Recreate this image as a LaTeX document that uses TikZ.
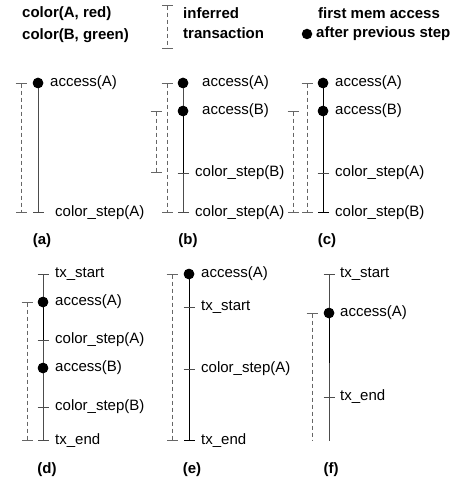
\documentclass[tikz,border=0pt]{standalone}
\usepackage{fontspec}
\setmainfont{Liberation Sans}
\usetikzlibrary{arrows.meta}

\newcommand{\steptick}[1]{\draw[txline] ([xshift=-5.5pt]#1) -- ([xshift=5.5pt]#1);}

\begin{document}
\begin{tikzpicture}[x=1pt,y=-1pt,font=\fontsize{15}{18}\selectfont]
    \tikzstyle{event}=[anchor=west,inner sep=0pt]
    \tikzstyle{legend}=[event,font=\fontsize{15}{18}\selectfont\bfseries]
    \tikzstyle{panel}=[inner sep=0pt,font=\fontsize{15}{18}\selectfont\bfseries]
    \tikzstyle{memdot}=[circle,fill=black,inner sep=0pt,minimum size=10.5pt]
    \tikzstyle{txline}=[draw=black!70,line width=0.8pt]
    \tikzstyle{hot}=[draw=black,line width=1pt]
    \tikzstyle{inferred}=[draw=black!60,line width=0.8pt,dash pattern=on 4pt off 3pt]
    \tikzstyle{ends}=[{Bar[width=11pt]}-{Bar[width=11pt]}]
    \useasboundingbox (0,0) rectangle (455,481);

    % Legend
    \node[legend] (lg-a) at (22,14) {color(A, red)};
    \node[legend] (lg-b) at (22,36) {color(B, green)};
    \coordinate (lg-t0) at (167.5,5);
    \coordinate (lg-t1) at (167.5,49);
    \draw[inferred,ends] (lg-t0) -- (lg-t1);
    \node[legend] (lg-inf) at (183,13) {inferred};
    \node[legend] (lg-tx) at (183,33) {transaction};
    \node[memdot] (lg-dot) at (307,34) {};
    \node[legend] (lg-first) at (318,13) {first mem access};
    \node[legend] (lg-after) at (316,34) {after previous step};

    % (a)
    \node[memdot] (a-1) at (38,83) {};
    \coordinate (a-2) at (38,213);
    \node[event] (a-l1) at (50,83) {access(A)};
    \node[event] (a-l2) at (55,213) {color\_step(A)};
    \coordinate (a-t0) at (21,83);
    \coordinate (a-t1) at (21,213);
    \draw[inferred,ends] (a-t0) -- (a-t1);
    \draw[txline,-{Bar[width=11pt]}] (a-1.center) -- (a-2);
    \node[memdot] at (a-1) {};
    \node[panel] (a-cap) at (42,241) {(a)};

    % (b)
    \node[memdot] (b-1) at (183,83) {};
    \node[memdot] (b-2) at (183,111) {};
    \coordinate (b-3) at (183,173);
    \coordinate (b-4) at (183,213);
    \node[event] (b-l1) at (202,83) {access(A)};
    \node[event] (b-l2) at (202,111) {access(B)};
    \node[event] (b-l3) at (195,173) {color\_step(B)};
    \node[event] (b-l4) at (195,213) {color\_step(A)};
    \coordinate (b-t0) at (167,83);
    \coordinate (b-t1) at (167,213);
    \coordinate (b-u0) at (156,111);
    \coordinate (b-u1) at (156,173);
    \draw[inferred,ends] (b-t0) -- (b-t1);
    \draw[inferred,ends] (b-u0) -- (b-u1);
    \draw[txline,-{Bar[width=11pt]}] (b-1.center) -- (b-4);
    \draw[hot] (b-2.center) -- (b-3);
    \steptick{b-3}
    \node[memdot] at (b-1) {};
    \node[memdot] at (b-2) {};
    \node[panel] (b-cap) at (188,241) {(b)};

    % (c)
    \node[memdot] (c-1) at (323,83) {};
    \node[memdot] (c-2) at (323,111) {};
    \coordinate (c-3) at (323,173);
    \coordinate (c-4) at (323,213);
    \foreach \y/\txt [count=\i] in {83/access(A), 111/access(B), 173/color\_step(A), 213/color\_step(B)}
        \node[event] (c-l\i) at (335,\y) {\txt};
    \coordinate (c-t0) at (307,83);
    \coordinate (c-t1) at (307,213);
    \coordinate (c-u0) at (293,111);
    \coordinate (c-u1) at (293,213);
    \draw[inferred,ends] (c-t0) -- (c-t1);
    \draw[inferred,ends] (c-u0) -- (c-u1);
    \draw[hot,-{Bar[width=11pt]}] (c-1.center) -- (c-4);
    \steptick{c-3}
    \node[memdot] at (c-1) {};
    \node[memdot] at (c-2) {};
    \node[panel] (c-cap) at (327,241) {(c)};

    % (d)
    \coordinate (d-1) at (43,274);
    \node[memdot] (d-2) at (43,302) {};
    \coordinate (d-3) at (43,340);
    \node[memdot] (d-4) at (43,368) {};
    \coordinate (d-5) at (43,407);
    \coordinate (d-6) at (43,441);
    \foreach \y/\txt [count=\i] in {274/tx\_start, 302/access(A), 340/color\_step(A), 368/access(B), 407/color\_step(B), 441/tx\_end}
        \node[event] (d-l\i) at (55,\y) {\txt};
    \coordinate (d-t0) at (27,302);
    \coordinate (d-t1) at (27,441);
    \draw[inferred,ends] (d-t0) -- (d-t1);
    \draw[txline,ends] (d-1) -- (d-6);
    \draw[hot] (d-2.center) -- (d-3);
    \steptick{d-3}
    \steptick{d-5}
    \node[memdot] at (d-2) {};
    \node[memdot] at (d-4) {};
    \node[panel] (d-cap) at (47,470) {(d)};

    % (e)
    \node[memdot] (e-1) at (189,274) {};
    \coordinate (e-2) at (189,307);
    \coordinate (e-3) at (189,369);
    \coordinate (e-4) at (189,441);
    \foreach \y/\txt [count=\i] in {274/access(A), 307/tx\_start, 369/color\_step(A), 441/tx\_end}
        \node[event] (e-l\i) at (201,\y) {\txt};
    \coordinate (e-t0) at (172,274);
    \coordinate (e-t1) at (172,441);
    \draw[inferred,ends] (e-t0) -- (e-t1);
    \draw[hot,-{Bar[width=11pt]}] (e-1.center) -- (e-4);
    \steptick{e-2}
    \steptick{e-3}
    \node[memdot] at (e-1) {};
    \node[panel] (e-cap) at (192,470) {(e)};

    % (f)
    \coordinate (f-1) at (329,274);
    \node[memdot] (f-2) at (329,313) {};
    \coordinate (f-3) at (329,363);
    \coordinate (f-4) at (329,397);
    \coordinate (f-5) at (329,441);
    \foreach \y/\txt [count=\i] in {274/tx\_start, 313/access(A), 397/tx\_end}
        \node[event] (f-l\i) at (340,\y) {\txt};
    \coordinate (f-t0) at (312,313);
    \coordinate (f-t1) at (312,441);
    \draw[inferred,{Bar[width=11pt]}-] (f-t0) -- (f-t1);
    \draw[txline,{Bar[width=11pt]}-] (f-1) -- (f-5);
    \draw[hot] (f-2.center) -- (f-3);
    \steptick{f-4}
    \node[memdot] at (f-2) {};
    \node[panel] (f-cap) at (331,470) {(f)};
\end{tikzpicture}
\end{document}
